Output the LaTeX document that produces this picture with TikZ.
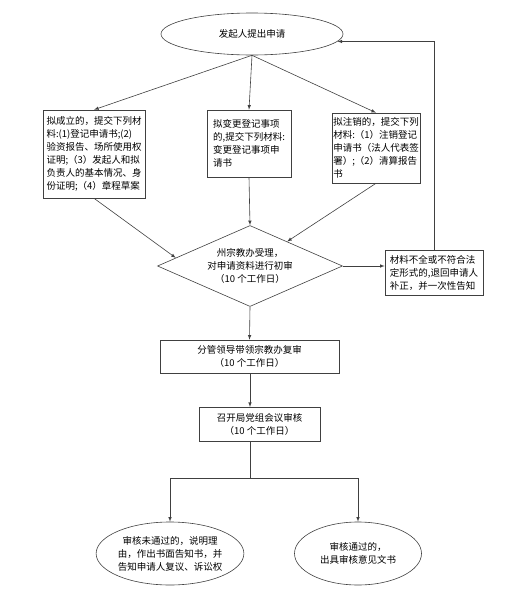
\documentclass[tikz,border=0pt]{standalone}
\usepackage{fontspec}
\newfontfamily\cjk{Noto Sans CJK SC}
\usetikzlibrary{math, calc, shapes.geometric}

\begin{document}
\begin{tikzpicture}[x=1pt, y=-1pt, line width=0.6pt, >=latex,
    every node/.style={font=\cjk\fontsize{9.5}{13}\selectfont, text=black},
    box/.style={draw=black!75, rectangle, inner xsep=1pt, inner ysep=1.5pt, align=left},
    stage/.style={draw=black!75, rectangle, inner sep=1.5pt, align=center},
    oval/.style={draw=black!75, ellipse, inner sep=0pt, align=center},
    flow/.style={draw=black!75, ->}]
    \tikzmath{
        \midx=250;
        \splity=478;
    }
    \useasboundingbox (0, 0) rectangle (506, 600);

    % 申请
    \node [oval, minimum width=182pt, minimum height=42pt] (start) at (252, 34) {发起人提出申请};

    % 三类材料
    \node [box, minimum width=102pt, minimum height=88pt] (setup) at (94, 154)
    {拟成立的，提交下列材\\料:(1)登记申请书;(2)\\验资报告、场所使用权\\证明;（3）发起人和拟\\负责人的基本情况、身\\份证明;（4）章程草案};
    \node [box, minimum width=84pt, minimum height=67pt] (change) at (249, 143.5)
    {拟变更登记事项\\的,提交下列材料:\\变更登记事项申\\请书};
    \node [box, minimum width=88pt, minimum height=70pt] (cancel) at (376, 148)
    {拟注销的，提交下列\\材料:（1）注销登记\\申请书（法人代表签\\署）;（2）清算报告\\书};

    % 初审
    \node [draw=black!75, diamond, aspect=2.3, inner sep=0pt, align=center,
        minimum width=185pt, minimum height=81pt] (decide) at (\midx, 266)
    {州宗教办受理，\\对申请资料进行初审\\（10 个工作日）};
    \node [box, minimum width=98pt, minimum height=45pt] (reject) at (434, 272.5)
    {材料不全或不符合法\\定形式的,退回申请人\\补正，并一次性告知};

    % 复审、审核
    \node [stage, minimum width=179pt, minimum height=33pt] (review) at (249.5, 356.5)
    {分管领导带领宗教办复审\\（10 个工作日）};
    \node [stage, minimum width=121pt, minimum height=34pt] (meeting) at (259.5, 424)
    {召开局党组会议审核\\（10 个工作日）};

    % 结果
    \node [oval, minimum width=136pt, minimum height=63pt] (fail) at (170, 553.5)
    {审核未通过的，说明理\\由，作出书面告知书，并\\告知申请人复议、诉讼权};
    \node [oval, minimum width=127pt, minimum height=63pt] (pass) at (358, 553.5)
    {审核通过的，\\出具审核意见文书};

    % 连线
    \draw [flow] (start.south) -- (setup.north);
    \draw [flow] (start.south) -- (change.north);
    \draw [flow] (start.south) -- (cancel.north);
    \draw [flow] (setup.south) -- ($ (decide.west)!0.2!(decide.north) $);
    \draw [flow] (change.south) -- (decide.north);
    \draw [flow] (cancel.south) -- ($ (decide.north)!0.4!(decide.east) $);
    \draw [flow] (decide.east) -- (decide.east -| reject.west);
    \draw [flow] (reject.north) |- (start.-5);
    \draw [flow] (decide.south) -- (review.north);
    \draw [flow] (\midx, 373) -- (\midx, 407);
    \coordinate (split) at (\midx, \splity);
    \draw [draw=black!75] (\midx, 441) -- (split);
    \draw [flow] (split) -| (fail.north);
    \draw [flow] (split) -| (pass.north);
\end{tikzpicture}
\end{document}
